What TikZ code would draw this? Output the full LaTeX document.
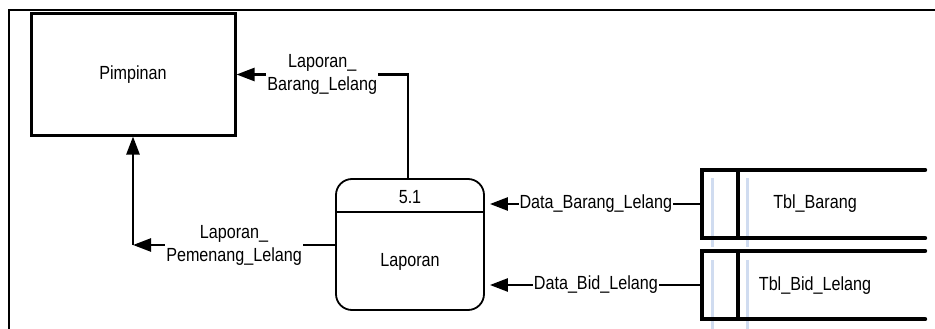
\documentclass[tikz,border=0pt]{standalone}
\usepackage{fontspec}
\setmainfont{Liberation Sans}[FakeStretch=0.85]
\usetikzlibrary{arrows.meta,calc}
\definecolor{guide}{RGB}{208,220,240}
\begin{document}
\begin{tikzpicture}[x=1pt,y=-1pt,font=\fontsize{19}{23}\selectfont,
  flow/.style={line width=2.5pt,-{Triangle[length=18pt,width=13pt]}},
  lbl/.style={fill=white,inner xsep=1pt,inner ysep=0pt,align=center},
  entity/.style={draw,line width=3pt,minimum width=204pt,minimum height=121pt},
  procbox/.style={draw,line width=1.8pt,rounded corners=16pt,minimum width=148pt,minimum height=131pt},
  storebox/.style={minimum width=223pt,minimum height=68pt,inner sep=0pt},
  storeline/.style={line width=4pt,line cap=round,line join=miter},
  guideline/.style={guide,line width=3pt}]
\useasboundingbox (0,0) rectangle (935,329);
% frame
\draw[line width=2.5pt] (9,329) -- (9,10) -- (935,10);
% faint guide lines
\draw[guideline] (712,178) -- (712,247) (712,260) -- (712,329);
\draw[guideline] (747,178) -- (747,247) (747,260) -- (747,329);
% entity
\node[entity] (pim) at (133,74.5) {Pimpinan};
% process
\node[procbox] (proc) at (410,244.5) {};
\node (pnum) at (410,197) {5.1};
\node (pname) at (410,262) {Laporan};
\draw[line width=1.8pt] (proc.west |- 0,212) -- (proc.east |- 0,212);
% stores
\node[storebox] (s1) at (813.5,204) {};
\node[storebox] (s2) at (813.5,285) {};
\node (s1t) at (815,204) {Tbl\_Barang};
\node (s2t) at (815,286) {Tbl\_Bid\_Lelang};
\draw[storeline] (s1.north east) -- (s1.north west) -- (s1.south west) -- (s1.south east);
\draw[storeline] (s2.north east) -- (s2.north west) -- (s2.south west) -- (s2.south east);
\draw[line width=3.5pt] ($(s1.north west)+(36,0)$) -- ($(s1.south west)+(36,0)$);
\draw[line width=3.5pt] ($(s2.north west)+(36,0)$) -- ($(s2.south west)+(36,0)$);
% flows
\draw[flow] ($(proc.north)+(-2,0)$) |- node[lbl,pos=0.75] {Laporan\_\\Barang\_Lelang} (pim.east);
\coordinate (c2) at (133,245);
\draw[flow] (proc.west |- c2) -- node[lbl] {Laporan\_\\Pemenang\_Lelang} (c2);
\draw[flow] (c2) -- (pim.south);
\draw[flow] (s1.west) -- node[lbl] {Data\_Barang\_Lelang} ($(proc.east |- s1.west)+(5,0)$);
\draw[flow] (s2.west) -- node[lbl] {Data\_Bid\_Lelang} ($(proc.east |- s2.west)+(5,0)$);
\end{tikzpicture}
\end{document}
